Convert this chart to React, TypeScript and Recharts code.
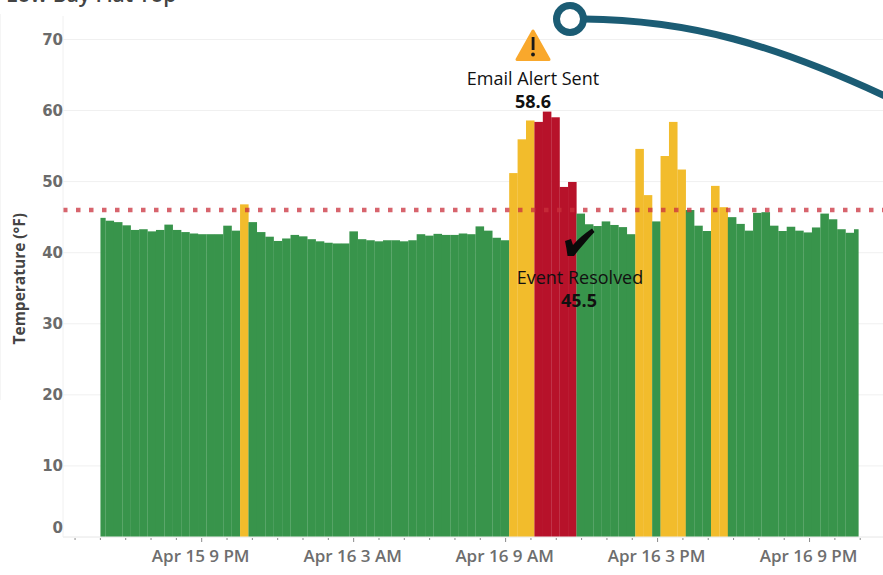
import { Bar, CartesianGrid, ComposedChart, ReferenceLine, XAxis, YAxis } from 'recharts'

// One bar per 20 minutes (°F)
const temperatures = [
  44.9, 44.5, 44.3, 43.85, 43.2, 43.3, 43.0, 43.2, 43.95, 43.2,
  42.9, 42.7, 42.6, 42.6, 42.6, 43.8, 43.1, 46.8, 44.3, 42.9,
  42.25, 41.65, 42.0, 42.5, 42.3, 41.9, 41.6, 41.4, 41.3, 41.3,
  43.0, 41.9, 41.75, 41.6, 41.75, 41.75, 41.6, 41.75, 42.6, 42.4,
  42.65, 42.5, 42.5, 42.7, 42.6, 43.7, 43.1, 42.1, 41.75, 51.2,
  55.95, 58.6, 58.4, 59.85, 59.05, 49.25, 49.95, 45.5, 44.0, 43.75,
  44.4, 43.9, 43.6, 42.6, 54.6, 48.1, 44.4, 53.6, 58.4, 51.7,
  46.0, 43.8, 43.05, 49.4, 46.4, 45.0, 44.05, 43.1, 45.6, 45.7,
  43.8, 43.05, 43.65, 43.1, 42.85, 43.55, 45.5, 44.7, 43.3, 42.8,
  43.3,
]
const warningSlots = [17, 49, 50, 51, 64, 65, 67, 68, 69, 73, 74]
const alertSlots = [52, 53, 54, 55, 56]

const temperatureTicks = [0, 10, 20, 30, 40, 50, 60, 70]
const hourTicks = [
  16, 17, 18, 19, 20, 21, 22, 23, 24, 25, 26, 27, 28, 29, 30, 31, 32, 33, 34, 35, 36,
  37, 38, 39, 40, 41, 42, 43, 44, 45, 46, 47,
]
const hourLabels: Record<number, string> = {
  21: 'Apr 15 9 PM',
  27: 'Apr 16 3 AM',
  33: 'Apr 16 9 AM',
  39: 'Apr 16 3 PM',
  45: 'Apr 16 9 PM',
}
const threshold = 46
const firstHour = 17

const GREEN = '#38944b'
const YELLOW = '#f2bc2c'
const RED = '#b7122a'
const TEAL = '#1b5c74'
const FONT = '"Open Sans", sans-serif'

// recharts truncates the band to whole pixels, so the bars are widened back
const BIN_WIDTH = 8.41

const chartData = temperatures.map((temp, slot) => ({
  slot,
  hour: firstHour + slot / 3,
  temp,
  color: alertSlots.includes(slot) ? RED : warningSlots.includes(slot) ? YELLOW : GREEN,
}))

// the first and last bins are only partly covered by the data
function TempBar(props: any) {
  const { x, y, width, height, index, payload } = props
  let left = x - (BIN_WIDTH - width) / 2
  let w = BIN_WIDTH + 0.15
  if (index === 0) {
    left += BIN_WIDTH * 0.4
    w = BIN_WIDTH * 0.6 + 0.15
  }
  if (index === temperatures.length - 1) {
    w = BIN_WIDTH * 0.55
  }
  return <rect x={left} y={y} width={w} height={height} fill={payload.color} />
}

function TempTick({ x, y, payload }: any) {
  // Tableau pushes the bottom label up above the axis
  const dy = payload.value === 0 ? -10 : 0
  return (
    <text
      x={x}
      y={y + dy}
      dy={5.5}
      textAnchor="end"
      fontFamily='"DejaVu Sans", sans-serif'
      fontWeight={700}
      fontSize={15}
      fill="#6b6b6b"
    >
      {payload.value}
    </text>
  )
}

function HourTick({ x, y, payload }: any) {
  const label = hourLabels[payload.value]
  return (
    <g>
      <line x1={x} x2={x} y1={538} y2={label ? 542 : 540} stroke="#8a8a8a" strokeWidth={1} />
      {label && (
        <text x={x - 1} y={562} textAnchor="middle" fontFamily={FONT} fontWeight={600} fontSize={17} fill="#6e6e6e">
          {label}
        </text>
      )}
    </g>
  )
}

// Hand-placed notes that sit on top of the bars
function Annotations() {
  return (
    <svg width={883} height={575} style={{ position: 'absolute', left: 0, top: 0, pointerEvents: 'none' }}>
      <text x={6} y={2} fontFamily={FONT} fontWeight={600} fontSize={21} fill="#444444">
        Low Bay Flat Top
      </text>
      <line x1={0.5} x2={0.5} y1={14} y2={400} stroke="#f5f5f5" />

      <polygon points="533,31 517,59.5 549,59.5" fill="#f9a82c" stroke="#f9a82c" strokeWidth={3} strokeLinejoin="round" />
      <rect x={531.7} y={37} width={2.8} height={13} fill="#1a1a1a" />
      <circle cx={533} cy={54.5} r={1.9} fill="#1a1a1a" />
      <text x={533} y={85} textAnchor="middle" fontFamily={FONT} fontSize={18} fill="#111111">
        Email Alert Sent
      </text>
      <text x={533} y={108} textAnchor="middle" fontFamily={FONT} fontWeight={700} fontSize={18} fill="#111111">
        58.6
      </text>

      <path
        d="M565 241 L571 239 L573 245 C 578 239, 585 233, 592 228.5 L594.5 232 C 587 240, 581 247, 574 256 L567.5 256 C 567 251, 566 246, 565 241 Z"
        fill="#0a0a0a"
      />
      <text x={580} y={284} textAnchor="middle" fontFamily={FONT} fontSize={18} fill="#111111">
        Event Resolved
      </text>
      <text x={579} y={307} textAnchor="middle" fontFamily={FONT} fontWeight={700} fontSize={18} fill="#111111">
        45.5
      </text>

      <path d="M584 19 C 690 20, 775 45, 885 96" fill="none" stroke={TEAL} strokeWidth={7} />
      <circle cx={570} cy={19} r={13.5} fill="#ffffff" stroke={TEAL} strokeWidth={7} />
    </svg>
  )
}

export default function App() {
  return (
    <div style={{ position: 'absolute', left: 0, top: 0, width: 883, height: 575, overflow: 'hidden', background: '#fff' }}>
      <ComposedChart
        width={883}
        height={575}
        data={chartData}
        margin={{ top: 16, right: 0, bottom: 0, left: 0 }}
        barCategoryGap={0}
        barGap={0}
      >
        <CartesianGrid horizontal vertical={false} stroke="#f0f0f0" syncWithTicks />
        <XAxis dataKey="slot" type="category" hide height={0} padding={{ left: 34.3, right: 20.4 }} />
        <XAxis
          xAxisId="hours"
          dataKey="hour"
          type="number"
          domain={[15.524, 47.9]}
          ticks={hourTicks}
          interval={0}
          height={38}
          allowDataOverflow
          tickLine={false}
          axisLine={{ stroke: '#eeeeee' }}
          tick={<HourTick />}
        />
        <YAxis
          width={63}
          domain={[0, 73.3]}
          ticks={temperatureTicks}
          interval={0}
          allowDataOverflow
          tickLine={false}
          tickMargin={0}
          tickSize={0}
          axisLine={{ stroke: '#f0f0f0' }}
          tick={<TempTick />}
          label={{
            value: 'Temperature (°F)',
            angle: -90,
            position: 'insideLeft',
            offset: 0,
            dx: 19,
            dy: 68,
            style: { fontFamily: FONT, fontWeight: 700, fontSize: 15.5, fill: '#444444' },
          }}
        />
        <Bar dataKey="temp" isAnimationActive={false} shape={<TempBar />} />
        <ReferenceLine
          y={threshold}
          stroke="#c9303c"
          strokeOpacity={0.75}
          strokeWidth={4.5}
          strokeDasharray="4.5 8.5"
        />
      </ComposedChart>
      <Annotations />
    </div>
  )
}
